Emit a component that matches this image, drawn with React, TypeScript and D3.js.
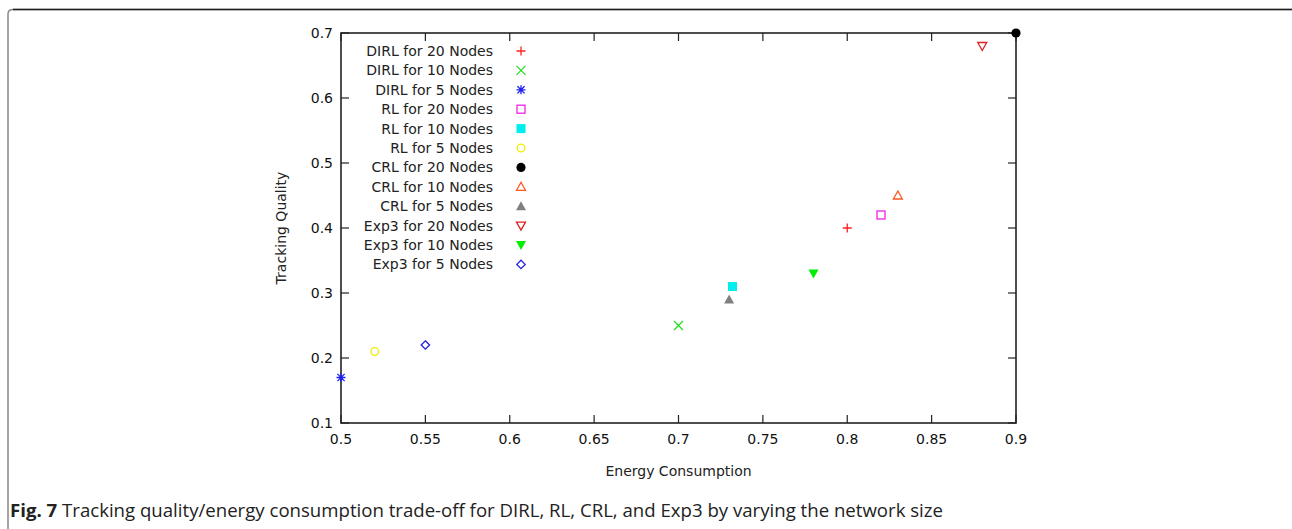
import * as d3 from "d3";
import React from "react";

// series, in legend order
const labels = [
  "DIRL for 20 Nodes",
  "DIRL for 10 Nodes",
  "DIRL for 5 Nodes",
  "RL for 20 Nodes",
  "RL for 10 Nodes",
  "RL for 5 Nodes",
  "CRL for 20 Nodes",
  "CRL for 10 Nodes",
  "CRL for 5 Nodes",
  "Exp3 for 20 Nodes",
  "Exp3 for 10 Nodes",
  "Exp3 for 5 Nodes",
];
const energy = [0.8, 0.7, 0.5, 0.82, 0.732, 0.52, 0.9, 0.83, 0.73, 0.88, 0.78, 0.55];
const quality = [0.4, 0.25, 0.17, 0.42, 0.31, 0.21, 0.7, 0.45, 0.29, 0.68, 0.33, 0.22];
const shapes = [
  "plus", "cross", "star", "square", "squareFill", "circle",
  "circleFill", "tri", "triFill", "triDown", "triDownFill", "diamond",
];
const colors = [
  "#ff2020", "#22dd22", "#2020ee", "#ee22ee", "#00eeee", "#eeee00",
  "#000000", "#ff5522", "#808080", "#dd2222", "#00ee00", "#2020dd",
];

const xTicks = [0.5, 0.55, 0.6, 0.65, 0.7, 0.75, 0.8, 0.85, 0.9];
const yTicks = [0.1, 0.2, 0.3, 0.4, 0.5, 0.6, 0.7];

const W = 1292;
const H = 529;
const margin = { left: 341, right: 276, top: 33, bottom: 106 };
const font = "Tahoma, 'DejaVu Sans', sans-serif";

function Marker({ shape, color, x, y }: { shape: string; color: string; x: number; y: number }) {
  const s = 4.5;
  const sw = 1.3;
  switch (shape) {
    case "plus":
      return <path d={`M${x - s},${y}H${x + s}M${x},${y - s}V${y + s}`} stroke={color} strokeWidth={sw} />;
    case "cross":
      return <path d={`M${x - s},${y - s}L${x + s},${y + s}M${x - s},${y + s}L${x + s},${y - s}`} stroke={color} strokeWidth={sw} />;
    case "star":
      return (
        <path
          d={`M${x - s},${y}H${x + s}M${x},${y - s}V${y + s}M${x - s * 0.8},${y - s * 0.8}L${x + s * 0.8},${y + s * 0.8}M${x - s * 0.8},${y + s * 0.8}L${x + s * 0.8},${y - s * 0.8}`}
          stroke={color}
          strokeWidth={sw}
        />
      );
    case "square":
      return <rect x={x - 4} y={y - 4} width={8} height={8} fill="none" stroke={color} strokeWidth={sw} />;
    case "squareFill":
      return <rect x={x - 4.5} y={y - 4.5} width={9} height={9} fill={color} />;
    case "circle":
      return <circle cx={x} cy={y} r={3.8} fill="none" stroke={color} strokeWidth={sw} />;
    case "circleFill":
      return <circle cx={x} cy={y} r={4.6} fill={color} />;
    case "tri":
      return <path d={`M${x},${y - 4.5}L${x + 4.5},${y + 3.5}L${x - 4.5},${y + 3.5}Z`} fill="none" stroke={color} strokeWidth={sw} />;
    case "triFill":
      return <path d={`M${x},${y - 5}L${x + 5},${y + 4}L${x - 5},${y + 4}Z`} fill={color} />;
    case "triDown":
      return <path d={`M${x},${y + 4.5}L${x + 4.5},${y - 3.5}L${x - 4.5},${y - 3.5}Z`} fill="none" stroke={color} strokeWidth={sw} />;
    case "triDownFill":
      return <path d={`M${x},${y + 5}L${x + 5},${y - 4}L${x - 5},${y - 4}Z`} fill={color} />;
    case "diamond":
      return <path d={`M${x},${y - 4.2}L${x + 4.2},${y}L${x},${y + 4.2}L${x - 4.2},${y}Z`} fill="none" stroke={color} strokeWidth={sw} />;
    default:
      return null;
  }
}

export default function App() {
  const x = d3.scaleLinear().domain([0.5, 0.9]).range([margin.left, W - margin.right]);
  const y = d3.scaleLinear().domain([0.1, 0.7]).range([H - margin.bottom, margin.top]);
  const [x0, x1] = x.range();
  const [y0, y1] = y.range();
  const tick = 8;
  const axisColor = "#222";

  return (
    <svg width={W} height={H} style={{ position: "absolute", left: 0, top: 0, background: "#fff" }}>
      {/* figure frame */}
      <path d="M8,540V14Q8,9.5,13,9.5H1292" fill="none" stroke="#888" strokeWidth={1.5} />
      <path d="M13,9.5H1292" fill="none" stroke="#222" strokeWidth={1.5} />

      {/* plot box */}
      <rect x={x0} y={y1} width={x1 - x0} height={y0 - y1} fill="none" stroke={axisColor} strokeWidth={1.6} />
      {xTicks.map((t) => (
        <g key={"x" + t}>
          <line x1={x(t)} x2={x(t)} y1={y0} y2={y0 - tick} stroke={axisColor} strokeWidth={1.2} />
          <line x1={x(t)} x2={x(t)} y1={y1} y2={y1 + tick} stroke={axisColor} strokeWidth={1.2} />
          <text x={x(t)} y={y0 + 21} textAnchor="middle" fontFamily={font} fontSize={14} fill="#111">
            {String(t)}
          </text>
        </g>
      ))}
      {yTicks.map((t) => (
        <g key={"y" + t}>
          <line x1={x0} x2={x0 + tick} y1={y(t)} y2={y(t)} stroke={axisColor} strokeWidth={1.2} />
          <line x1={x1} x2={x1 - tick} y1={y(t)} y2={y(t)} stroke={axisColor} strokeWidth={1.2} />
          <text x={x0 - 8} y={y(t) + 5} textAnchor="end" fontFamily={font} fontSize={14} fill="#111">
            {String(t)}
          </text>
        </g>
      ))}

      <text x={(x0 + x1) / 2} y={y0 + 53} textAnchor="middle" fontFamily={font} fontSize={14} fill="#222">
        Energy Consumption
      </text>
      <text
        transform={`translate(${286},${(y0 + y1) / 2}) rotate(-90)`}
        textAnchor="middle"
        fontFamily={font}
        fontSize={14}
        fill="#222"
      >
        Tracking Quality
      </text>

      {/* legend */}
      {labels.map((l, i) => (
        <g key={l}>
          <text x={493} y={51 + i * 19.4 + 5} textAnchor="end" fontFamily={font} fontSize={14} fill="#222">
            {l}
          </text>
          <Marker shape={shapes[i]} color={colors[i]} x={521} y={51 + i * 19.4} />
        </g>
      ))}

      {/* points */}
      {labels.map((l, i) => (
        <Marker key={"p" + l} shape={shapes[i]} color={colors[i]} x={x(energy[i])} y={y(quality[i])} />
      ))}

      {/* caption */}
      <text
        x={10}
        y={517}
        fontFamily="'Open Sans', 'Noto Sans', sans-serif"
        fontSize={17.5}
        fill="#222"
        textLength={933}
        lengthAdjust="spacingAndGlyphs"
      >
        <tspan fontWeight="bold">Fig. 7</tspan>
        <tspan> Tracking quality/energy consumption trade-off for DIRL, RL, CRL, and Exp3 by varying the network size</tspan>
      </text>
    </svg>
  );
}
